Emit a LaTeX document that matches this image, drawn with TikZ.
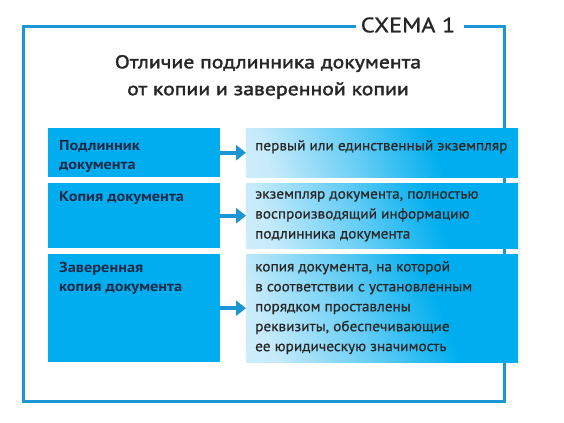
\documentclass[tikz,border=0pt]{standalone}
\usepackage{fontspec}
\setmainfont{PT Sans}[FakeStretch=1.05, FakeBold=0.5]
\newfontfamily\labelfont{PT Sans}[FakeStretch=1.13]
\newfontfamily\titlefont{PT Sans}[FakeStretch=1.18, FakeBold=2]
\newfontfamily\schemafont{PT Sans}[FakeStretch=1.16, FakeBold=1]
\usetikzlibrary{arrows.meta}
\definecolor{framecol}{HTML}{1B95D3}
\definecolor{boxcol}{HTML}{00AEEF}
\definecolor{arrowcol}{HTML}{1B95D3}
\definecolor{labelcol}{HTML}{1A2A48}
\definecolor{textcol}{HTML}{262626}
\definecolor{lightcol}{HTML}{E2F3FC}
\pgfdeclarehorizontalshading{rboxshade}{100bp}{color(0bp)=(lightcol); color(24bp)=(lightcol!88!boxcol); color(44bp)=(boxcol!55!lightcol); color(62bp)=(boxcol); color(100bp)=(boxcol)}
\tikzset{
  leftbox/.style={draw=none, fill=boxcol, inner sep=0, anchor=north west},
  rightbox/.style={draw=none, shading=rboxshade, shading angle=20, inner sep=0, anchor=north west},
  lefttext/.style={anchor=north west, inner sep=0, align=left, text=labelcol, font=\labelfont\bfseries\fontsize{14.5}{19.5}\selectfont},
  righttext/.style={anchor=north west, inner sep=0, align=left, text=textcol, font=\fontsize{14.6}{20}\selectfont},
  conn/.style={draw=arrowcol, line width=4bp, -{Triangle[length=10bp,width=15bp]}, shorten >=0pt},
}
\begin{document}
\begin{tikzpicture}[x=1bp,y=-1bp]
\useasboundingbox (0,0) rectangle (564,422);
\fill[white] (0,0) rectangle (564,422);
% frame
\draw[framecol, line width=3bp] (356,26) -- (23,26) -- (23,401) -- (504,401) -- (504,26) -- (464,26);
\node[anchor=center, inner sep=0, text=textcol, font=\schemafont\fontsize{21}{24}\selectfont] (schema) at (408,25) {СХЕМА 1};
\node[anchor=center, inner sep=0, align=center, text=textcol, font=\titlefont\fontsize{18.5}{27}\selectfont] (title) at (268,77) {Отличие подлинника документа\\от копии и заверенной копии};
% boxes
\node[leftbox, minimum width=172bp, minimum height=49bp] (l1) at (48,128) {};
\node[leftbox, minimum width=172bp, minimum height=65bp] (l2) at (48,183) {};
\node[leftbox, minimum width=172bp, minimum height=108bp] (l3) at (48,254) {};
\node[rightbox, minimum width=272bp, minimum height=49bp] (r1) at (246,128) {};
\node[rightbox, minimum width=272bp, minimum height=65bp] (r2) at (246,183) {};
\node[rightbox, minimum width=272bp, minimum height=108bp] (r3) at (246,254) {};
% texts
\node[lefttext] (t1) at (59,140) {Подлинник\\документа};
\node[lefttext] (t2) at (59,191) {Копия документа};
\node[lefttext] (t3) at (59,262) {Заверенная\\копия документа};
\node[righttext] (u1) at (255,140) {первый или единственный экземпляр};
\node[righttext] (u2) at (255,191) {экземпляр документа, полностью\\воспроизводящий информацию\\подлинника документа};
\node[righttext] (u3) at (255,261) {копия документа, на которой\\в соответствии с установленным\\порядком проставлены\\реквизиты, обеспечивающие\\ее юридическую значимость};
% arrows
\draw[conn] (l1.east) -- (r1.west);
\draw[conn] (l2.east) -- (r2.west);
\draw[conn] (l3.east) -- (r3.west);
\end{tikzpicture}
\end{document}
